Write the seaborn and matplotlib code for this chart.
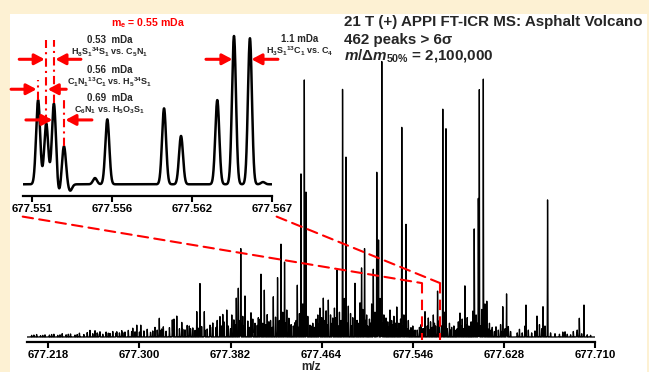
import numpy as np
import pandas as pd
import matplotlib
matplotlib.use("Agg")
import matplotlib.pyplot as plt
import seaborn as sns
from matplotlib.patches import Rectangle, ConnectionPatch

# ---------------- broadband spectrum (centroid m/z, relative abundance) ----------------
spec_mz = [
    677.2555, 677.2600, 677.2645, 677.2796, 677.2841, 677.2940, 677.2976, 677.3012,
    677.3140, 677.3179, 677.3215, 677.3296, 677.3311, 677.3336, 677.3381, 677.3449,
    677.3516, 677.3545, 677.3584, 677.3635, 677.3725, 677.3750, 677.3786, 677.3831,
    677.3872, 677.3890, 677.3912, 677.3950, 677.4004, 677.4040, 677.4094, 677.4124,
    677.4205, 677.4243, 677.4274, 677.4306, 677.4326, 677.4421, 677.4454, 677.4484,
    677.4499, 677.4535, 677.4625, 677.4655, 677.4700, 677.4740, 677.4778, 677.4828,
    677.4859, 677.4880, 677.4940, 677.4985, 677.4999, 677.5026, 677.5105, 677.5136,
    677.5152, 677.5181, 677.5219, 677.5255, 677.5316, 677.5361, 677.5399, 677.5444,
    677.5570, 677.5600, 677.5645, 677.5683, 677.5730, 677.5759, 677.5849, 677.5885,
    677.5929, 677.6000, 677.6013, 677.6050, 677.6059, 677.6095, 677.6126, 677.6209,
    677.6270, 677.6304, 677.6479, 677.6578, 677.6632, 677.6673, 677.6830, 677.6936,
    677.6959, 677.7001,
]
spec_ab = [
    1.1, 2.3, 1.9, 1.9, 2.3, 3.2, 4.3, 4.3,
    3.5, 6.8, 3.7, 6.2, 6.5, 7.6, 5.3, 4.0,
    9.2, 19.4, 9.2, 4.3, 7.4, 8.2, 9.8, 8.0,
    14.1, 17.7, 32.1, 14.9, 8.8, 5.0, 22.8, 17.0,
    14.6, 21.5, 33.7, 27.1, 9.8, 18.8, 59.2, 93.3,
    52.6, 4.3, 10.5, 14.1, 13.4, 6.9, 24.2, 89.6,
    65.3, 11.2, 19.5, 12.4, 25.0, 32.0, 24.6, 59.8,
    35.1, 100.0, 6.9, 9.8, 10.9, 76.1, 40.9, 3.4,
    9.2, 6.9, 8.0, 16.6, 82.7, 75.6, 2.5, 8.7,
    18.5, 9.4, 39.1, 50.3, 89.8, 93.6, 13.0, 3.7,
    11.0, 15.6, 11.6, 7.6, 11.0, 49.6, 1.9, 1.6,
    6.8, 11.6,
]

# low-level peaks near the noise floor
minor_mz = [
    677.2030, 677.2075, 677.2110, 677.2150, 677.2190, 677.2230, 677.2265, 677.2305,
    677.2340, 677.2380, 677.2420, 677.2460, 677.2500, 677.2530, 677.2580, 677.2620,
    677.2670, 677.2700, 677.2735, 677.2760, 677.2820, 677.2870, 677.2900, 677.2960,
    677.3040, 677.3070, 677.3100, 677.3160, 677.3200, 677.3240, 677.3270, 677.3360,
    677.3410, 677.3430, 677.3480, 677.3500, 677.3560, 677.3610, 677.3660, 677.3690,
    677.3700, 677.3760, 677.3800, 677.3850, 677.3930, 677.3975, 677.4020, 677.4060,
    677.4070, 677.4110, 677.4150, 677.4180, 677.4225, 677.4290, 677.4345, 677.4365,
    677.4400, 677.4440, 677.4470, 677.4515, 677.4560, 677.4590, 677.4605, 677.4640,
    677.4680, 677.4720, 677.4755, 677.4800, 677.4845, 677.4900, 677.4920, 677.4960,
    677.5010, 677.5045, 677.5070, 677.5090, 677.5120, 677.5165, 677.5200, 677.5235,
    677.5270, 677.5290, 677.5335, 677.5350, 677.5380, 677.5420, 677.5460, 677.5480,
    677.5520, 677.5535, 677.5550, 677.5620, 677.5665, 677.5700, 677.5745, 677.5790,
    677.5810, 677.5830, 677.5870, 677.5905, 677.5950, 677.5965, 677.5985, 677.6030,
    677.6080, 677.6110, 677.6150, 677.6175, 677.6230, 677.6250, 677.6290, 677.6320,
    677.6340, 677.6400, 677.6420, 677.6445, 677.6470, 677.6500, 677.6530, 677.6560,
    677.6600, 677.6620, 677.6650, 677.6700, 677.6740, 677.6780, 677.6810, 677.6850,
    677.6880, 677.6905, 677.6940, 677.6980, 677.7030, 677.7060,
    677.2050, 677.2130, 677.2210, 677.2285, 677.2360, 677.2440, 677.2555, 677.2640,
    677.2720, 677.2790, 677.2850, 677.2930, 677.3000, 677.3120, 677.3190, 677.3300,
    677.3390, 677.3460, 677.3530, 677.3590, 677.3640, 677.3740, 677.3820, 677.3862,
    677.3905, 677.3940, 677.3990, 677.4015, 677.4085, 677.4135, 677.4165, 677.4195,
    677.4260, 677.4315, 677.4385, 677.4410, 677.4430, 677.4505, 677.4545, 677.4575,
    677.4620, 677.4665, 677.4690, 677.4735, 677.4765, 677.4790, 677.4815, 677.4870,
    677.4910, 677.4950, 677.4975, 677.5035, 677.5055, 677.5080, 677.5110, 677.5145,
    677.5175, 677.5190, 677.5210, 677.5245, 677.5280, 677.5305, 677.5325, 677.5370,
    677.5390, 677.5410, 677.5435, 677.5470, 677.5500, 677.5560, 677.5590, 677.5610,
    677.5635, 677.5655, 677.5720, 677.5770, 677.5800, 677.5860, 677.5895, 677.5915,
    677.5940, 677.6040, 677.6070, 677.6135, 677.6165, 677.6195, 677.6260, 677.6280,
    677.6310,
]
minor_ab = [
    0.6, 0.9, 0.5, 0.8, 0.7, 1.0, 0.6, 1.2,
    0.8, 1.1, 0.7, 1.4, 0.9, 1.6, 1.2, 1.5,
    1.0, 1.8, 1.3, 2.0, 1.5, 1.8, 2.4, 1.9,
    2.2, 2.8, 1.7, 2.5, 2.9, 2.1, 3.4, 3.0,
    2.6, 4.2, 3.3, 2.4, 3.8, 2.9, 5.1, 3.5,
    6.0, 5.5, 4.0, 6.2, 7.5, 5.8, 6.5, 4.2,
    7.0, 5.0, 8.1, 6.0, 7.2, 9.0, 6.8, 4.5,
    5.2, 8.5, 12.0, 7.5, 5.0, 6.5, 8.0, 7.0,
    9.5, 8.0, 10.5, 9.0, 14.0, 8.5, 7.0, 6.0,
    10.0, 8.0, 6.5, 12.0, 9.0, 14.0, 8.0, 5.5,
    6.0, 7.5, 5.0, 6.5, 8.0, 6.0, 4.0, 2.5,
    3.5, 4.5, 3.0, 5.5, 4.0, 6.0, 9.0, 5.0,
    3.5, 4.0, 5.5, 6.5, 7.0, 4.0, 5.5, 8.0,
    10.0, 12.0, 5.0, 3.5, 2.5, 4.5, 3.0, 3.8,
    2.0, 1.5, 2.8, 1.5, 4.0, 2.5, 1.5, 2.2,
    4.5, 3.0, 4.0, 1.5, 1.2, 1.0, 1.8, 1.0,
    0.8, 2.0, 2.5, 1.2, 0.8, 0.6,
    0.7, 0.6, 0.9, 0.8, 1.0, 0.9, 1.3, 1.2,
    1.4, 1.5, 1.6, 2.0, 1.8, 2.2, 2.4, 2.6,
    2.8, 3.0, 3.2, 2.5, 3.6, 4.0, 3.0, 4.5,
    6.0, 4.0, 3.5, 5.0, 6.5, 4.5, 5.5, 3.5,
    6.0, 5.0, 4.0, 6.0, 3.5, 5.5, 4.0, 3.5,
    5.0, 6.0, 4.5, 5.0, 7.0, 4.0, 6.0, 5.0,
    4.0, 6.0, 5.0, 6.0, 4.0, 5.0, 7.0, 6.0,
    8.0, 5.0, 4.0, 3.5, 4.5, 5.0, 3.0, 4.0,
    5.0, 3.0, 2.5, 2.0, 2.5, 3.0, 4.0, 2.5,
    3.5, 5.0, 4.0, 3.0, 2.5, 3.0, 4.0, 3.0,
    4.5, 5.0, 4.0, 3.0, 2.5, 2.0, 2.0, 1.8,
    2.2,
]

main_ticks = [677.218, 677.300, 677.382, 677.464, 677.546, 677.628, 677.710]
main_ticklabels = ["677.218", "677.300", "677.382", "677.464", "677.546", "677.628", "677.710"]

# ---------------- zoomed window 677.551 - 677.567 ----------------
# four-peak split cluster: first peak + the labelled mass differences (mDa)
cluster_start = 677.55140
cluster_split_mda = [0.56, 0.53, 0.69]
cluster_ab = [56.8, 41.1, 54.6, 26.0]
# doublet resolved by 1.1 mDa
doublet_start = 677.56490
doublet_split_mda = 1.1
doublet_ab = [100.0, 98.5]
# remaining peaks (negative values are the FT side-lobes next to the cluster)
other_mz = [677.55285, 677.55360, 677.55532, 677.55617, 677.56008, 677.56125, 677.56375, 677.56690]
other_ab = [-6.0, -4.5, 4.2, 43.8, 51.2, 32.6, 56.8, 1.5]

zoom_ticks = [677.5510, 677.5565, 677.5620, 677.5675]
zoom_ticklabels = ["677.551", "677.556", "677.562", "677.567"]

electron_mass_mda = 0.55

cluster_mz = [cluster_start]
for d in cluster_split_mda:
    cluster_mz.append(cluster_mz[-1] + d / 1000.0)
doublet_mz = [doublet_start, doublet_start + doublet_split_mda / 1000.0]

zoom_mz = cluster_mz + doublet_mz + other_mz
zoom_ab = cluster_ab + doublet_ab + other_ab


def profile(grid, centers, heights, sigma):
    g = np.asarray(grid)[:, None]
    c = np.asarray(centers)[None, :]
    h = np.asarray(heights)[None, :]
    return (h * np.exp(-0.5 * ((g - c) / sigma) ** 2)).sum(axis=1)


main_grid = np.arange(677.1990, 677.7100, 0.00003)
main_df = pd.DataFrame({
    "mz": main_grid,
    "abundance": profile(main_grid, spec_mz + minor_mz, spec_ab + minor_ab, 0.000125),
})
zoom_grid = np.arange(677.55038, 677.56750, 0.000005)
zoom_df = pd.DataFrame({"mz": zoom_grid,
                        "abundance": profile(zoom_grid, zoom_mz, zoom_ab, 0.000138)})

# ---------------- figure ----------------
sns.set_style("white")
plt.rcParams["font.family"] = ["Liberation Sans", "DejaVu Sans"]
plt.rcParams["font.weight"] = "bold"
plt.rcParams["mathtext.fontset"] = "custom"
plt.rcParams["mathtext.rm"] = "Liberation Sans:bold"
plt.rcParams["mathtext.bf"] = "Liberation Sans:bold"
plt.rcParams["mathtext.it"] = "Liberation Sans:italic:bold"

W, H = 649, 372
fig = plt.figure(figsize=(W / 100, H / 100), dpi=100)
fig.patch.set_facecolor("#FDF1D3")
fig.add_artist(Rectangle((10 / W, 0), 637 / W, 358 / H, transform=fig.transFigure,
                         facecolor="white", edgecolor="none", zorder=0))

RED = "#FF0000"

# main spectrum
ax = fig.add_axes([27 / W, 1 - 342 / H, 568 / W, 322 / H])
ax.set_facecolor("none")
sns.lineplot(data=main_df, x="mz", y="abundance", ax=ax, color="black", lw=0.95,
             estimator=None, sort=False)
ax.set_xlim(677.19883, 677.7100)
ax.set_ylim(-1.81, 114.7)
for s in ["left", "right", "top"]:
    ax.spines[s].set_visible(False)
ax.spines["bottom"].set_linewidth(1.6)
ax.spines["bottom"].set_color("black")
ax.set_yticks([])
ax.set_xticks(main_ticks, main_ticklabels)
ax.tick_params(axis="x", direction="out", length=4, width=1.5, labelsize=8.2, pad=2,
               bottom=True, colors="black")
ax.set_ylabel("")
ax.set_xlabel("m/z", fontsize=8.5, fontweight="bold", labelpad=0.5)

# zoomed inset
axin = fig.add_axes([23.3 / W, 1 - 196 / H, 248.4 / W, 176 / H])
axin.set_facecolor("none")
sns.lineplot(data=zoom_df, x="mz", y="abundance", ax=axin, color="black", lw=1.8,
             estimator=None, sort=False)
axin.set_xlim(677.55038, 677.56750)
axin.set_ylim(-7.9, 110.8)
for s in ["left", "right", "top"]:
    axin.spines[s].set_visible(False)
axin.spines["bottom"].set_linewidth(1.6)
axin.spines["bottom"].set_color("black")
axin.set_yticks([])
axin.set_xticks(zoom_ticks, zoom_ticklabels)
axin.tick_params(axis="x", direction="out", length=4, width=1.5, labelsize=8.2, pad=1.5,
                 bottom=True, colors="black")
axin.set_xlabel("")
axin.set_ylabel("")

# dash-dot markers above the split cluster
dashdot = (0, (4, 2, 1, 2))
for mz, y0, y1 in zip(cluster_mz, [56.8, 41.3, 54.8, 26.0], [70.3, 97.3, 97.3, 56.8]):
    axin.plot([mz, mz], [y0, y1], color=RED, lw=1.5, ls=dashdot, clip_on=False)

# pairs of arrows pointing at each resolved pair
px = 0.0165 / 239.4  # one pixel in the zoom window, in Da
arrow_kw = dict(arrowstyle="-|>,head_length=0.6,head_width=0.32", color=RED, lw=2.2,
                shrinkA=0, shrinkB=0)


def arrow_pair(left_mz, right_mz, y, left_tail, right_tail):
    axin.annotate("", xy=(left_mz - 1.5 * px, y), xytext=(left_mz - left_tail * px, y),
                  arrowprops=arrow_kw, annotation_clip=False)
    axin.annotate("", xy=(right_mz + 1.5 * px, y), xytext=(right_mz + right_tail * px, y),
                  arrowprops=arrow_kw, annotation_clip=False)


arrow_pair(cluster_mz[1], cluster_mz[2], 84.3, 27, 27)
arrow_pair(cluster_mz[0], cluster_mz[1], 64.1, 27, 20)
arrow_pair(cluster_mz[2], cluster_mz[3], 43.4, 28, 28)
arrow_pair(doublet_mz[0], doublet_mz[1], 84.3, 28, 28)

label_x = 677.55632
fs_mda = 7.0
fs_formula = 6.5
pairs = [
    (cluster_split_mda[1], r"H$_8$S$_1$$^{34}$S$_1$ vs. C$_5$N$_1$", 97.6, 88.8),
    (cluster_split_mda[0], r"C$_1$N$_1$$^{13}$C$_1$ vs. H$_5$$^{34}$S$_1$", 77.4, 68.6),
    (cluster_split_mda[2], r"C$_6$N$_1$ vs. H$_5$O$_3$S$_1$", 58.3, 50.0),
]
for d, formula, y_top, y_bot in pairs:
    axin.text(label_x, y_top, f"{d:.2f}  mDa", ha="center", va="center",
              fontsize=fs_mda, fontweight="bold")
    axin.text(label_x, y_bot, formula, ha="center", va="center",
              fontsize=fs_formula, fontweight="bold")

axin.text(677.56944, 98.3, f"{doublet_split_mda:.1f} mDa", ha="center", va="center",
          fontsize=fs_mda, fontweight="bold", clip_on=False)
axin.text(677.56944, 89.6, r"H$_3$S$_1$$^{13}$C$_1$ vs. C$_4$", ha="center", va="center",
          fontsize=fs_formula, fontweight="bold", clip_on=False)
axin.text(677.55894, 108.6, r"m$_\mathrm{e}$ = " + f"{electron_mass_mda:.2f} mDa",
          ha="center", va="center", fontsize=7.6, fontweight="bold", color=RED)

# dashed guides from the zoom window down to its position in the full spectrum
guide_y = 19.5
for x_zoom, x_main in [(677.55034, 677.5543), (677.56784, 677.5706)]:
    con = ConnectionPatch(xyA=(x_zoom, -21.8), coordsA=axin.transData,
                          xyB=(x_main, guide_y), coordsB=ax.transData,
                          color=RED, lw=1.5, linestyle=(0, (5, 3)))
    fig.add_artist(con)
    ax.plot([x_main, x_main], [guide_y, -1.2], color=RED, lw=1.5, ls=(0, (5, 3)),
            clip_on=False)

# experiment description
fig.text(344 / W, 1 - 21.7 / H, "21 T (+) APPI FT-ICR MS: Asphalt Volcano",
         ha="left", va="center", fontsize=10.9, fontweight="bold")
fig.text(344 / W, 1 - 40 / H, "462 peaks > 6σ",
         ha="left", va="center", fontsize=10.9, fontweight="bold")
fig.text(344 / W, 1 - 56 / H, r"$m$/Δ$m$$_{50\%}$ = 2,100,000",
         ha="left", va="center", fontsize=10.9, fontweight="bold")

fig.savefig("out.png", dpi=100, facecolor=fig.get_facecolor())
